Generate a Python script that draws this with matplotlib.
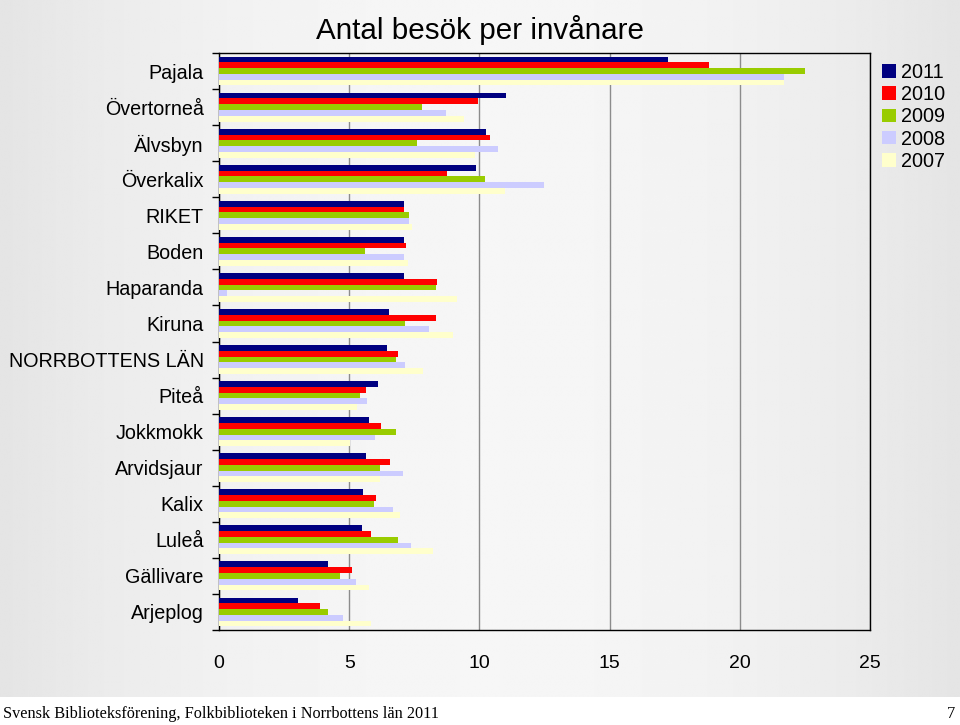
import matplotlib
matplotlib.use("Agg")
import matplotlib.pyplot as plt
import numpy as np

# --- data ---
kommuner = ["Pajala", "Övertorneå", "Älvsbyn", "Överkalix", "RIKET", "Boden",
            "Haparanda", "Kiruna", "NORRBOTTENS LÄN", "Piteå", "Jokkmokk",
            "Arvidsjaur", "Kalix", "Luleå", "Gällivare", "Arjeplog"]
years = ["2011", "2010", "2009", "2008", "2007"]
v2011 = [17.24, 11.03, 10.27, 9.86, 7.09, 7.10, 7.10, 6.52, 6.47, 6.12, 5.75, 5.63, 5.54, 5.48, 4.19, 3.04]
v2010 = [18.83, 9.94, 10.42, 8.76, 7.12, 7.19, 8.38, 8.34, 6.87, 5.65, 6.22, 6.57, 6.02, 5.84, 5.09, 3.87]
v2009 = [22.50, 7.79, 7.59, 10.21, 7.29, 5.60, 8.34, 7.15, 6.79, 5.42, 6.81, 6.17, 5.95, 6.87, 4.65, 4.19]
v2008 = [21.70, 8.73, 10.73, 12.47, 7.29, 7.10, 0.32, 8.05, 7.14, 5.68, 5.98, 7.08, 6.69, 7.38, 5.26, 4.78]
v2007 = [21.70, 9.40, 9.83, 10.98, 7.40, 7.26, 9.15, 9.00, 7.84, 5.30, 5.04, 6.19, 6.95, 8.22, 5.77, 5.84]
series = [v2011, v2010, v2009, v2008, v2007]
colors = ["#000080", "#ff0000", "#99cc00", "#ccccff", "#ffffcc"]

plt.rcParams["font.family"] = ["Liberation Sans", "DejaVu Sans"]

fig = plt.figure(figsize=(9.6, 7.25), dpi=100)
fig.patch.set_facecolor("white")

# soft grey gradient backdrop (light in the middle, darker at the sides)
bg = fig.add_axes([0, 28 / 725, 1, 697 / 725], zorder=-10)
xs = np.linspace(-1, 1, 400)
shade = 0.965 - 0.07 * xs ** 2
bg.imshow(np.tile(shade, (20, 1)), cmap="gray", vmin=0, vmax=1,
          aspect="auto", extent=(0, 1, 0, 1))
bg.set_axis_off()
bg.set_xlim(0, 1)
bg.set_ylim(0, 1)

ax = fig.add_axes([219 / 960, 95 / 725, 651 / 960, 577 / 725])
ax.patch.set_alpha(0)

n = len(kommuner)
h = 0.8 / len(series)
y = np.arange(n)
for i, (vals, col, yr) in enumerate(zip(series, colors, years)):
    ax.barh(y - 0.4 + h * (i + 0.5), vals, height=h, color=col, label=yr,
            linewidth=0, zorder=3)

ax.set_xlim(0, 25)
ax.set_ylim(n - 0.5, -0.5)
ax.set_xticks([0, 5, 10, 15, 20, 25])
ax.set_yticks(y)
ax.set_yticklabels(kommuner)
ax.set_yticks(np.arange(n + 1) - 0.5, minor=True)
ax.tick_params(axis="y", which="major", length=0, pad=11, labelsize=14.2)
ax.tick_params(axis="y", which="minor", length=5, width=1, direction="out")
ax.tick_params(axis="x", length=0, pad=18, labelsize=14)
ax.grid(axis="x", color="#8c8c8c", linewidth=1, zorder=1)
for s in ax.spines.values():
    s.set_color("black")
    s.set_linewidth(1)

fig.text(480 / 960, 1 - 30 / 725, "Antal besök per invånare",
         ha="center", va="center", fontsize=21.3)

leg = fig.legend(loc="upper left", bbox_to_anchor=(882 / 960, 1 - 63 / 725),
                 fontsize=14.3, frameon=False, handlelength=0.68,
                 handleheight=0.68, handletextpad=0.3, labelspacing=0.16,
                 borderaxespad=0, borderpad=0)

# footer band
fig.text(3 / 960, 11 / 725, "Svensk Biblioteksförening, Folkbiblioteken i Norrbottens län 2011",
         ha="left", va="center", fontsize=11.7, family=["Liberation Serif", "DejaVu Serif"])
fig.text(955 / 960, 11 / 725, "7", ha="right", va="center", fontsize=11.7,
         family=["Liberation Serif", "DejaVu Serif"])

fig.savefig("out.png", dpi=100)
